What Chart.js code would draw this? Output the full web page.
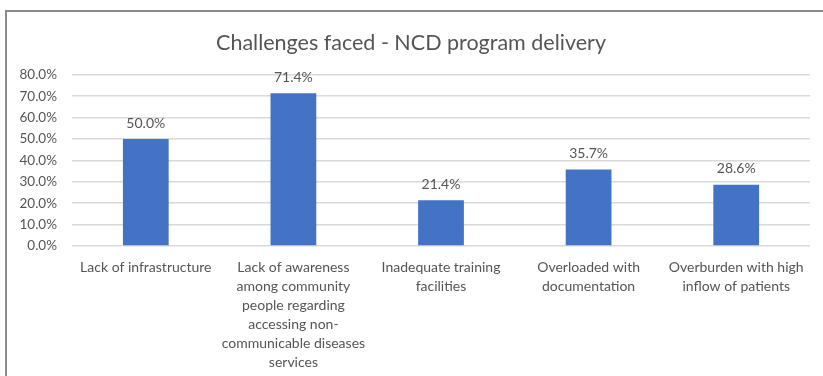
<!DOCTYPE html>
<html>
<head>
<meta charset="utf-8">
<script src="https://cdn.jsdelivr.net/npm/chart.js@4/dist/chart.umd.min.js"></script>
<style>
  html, body { margin: 0; padding: 0; background: #fff; }
  #wrap { position: relative; width: 823px; height: 376px; overflow: hidden; }
  #frame { position: absolute; left: 5px; top: 10px; width: 830px; height: 380px;
           border-top: 2px solid #8a8a8a; border-left: 2px solid #8a8a8a; box-sizing: border-box; }
  canvas { position: absolute; left: 0; top: 0; }
</style>
</head>
<body>
<div id="wrap">
  <div id="frame"></div>
  <canvas id="c" width="823" height="376"></canvas>
</div>
<script>
const categories = [
  ['Lack of infrastructure'],
  ['Lack of awareness', 'among community', 'people regarding', 'accessing non-', 'communicable diseases', 'services'],
  ['Inadequate training', 'facilities'],
  ['Overloaded with', 'documentation'],
  ['Overburden with high', 'inflow of patients']
];
const percentValues = [50.0, 71.4, 21.4, 35.7, 28.6];
const yTicks = [0, 10, 20, 30, 40, 50, 60, 70, 80];

const FONT = 'Lato, "Open Sans", sans-serif';
const TEXT = '#555555';

// Writes each bar's value just above it
const valueLabels = {
  id: 'valueLabels',
  afterDatasetsDraw(chart) {
    const ctx = chart.ctx;
    const meta = chart.getDatasetMeta(0);
    ctx.save();
    ctx.font = '14px ' + FONT;
    ctx.fillStyle = TEXT;
    ctx.textAlign = 'center';
    ctx.textBaseline = 'middle';
    meta.data.forEach((bar, i) => {
      ctx.fillText(percentValues[i].toFixed(1) + '%', bar.x, bar.y - 16);
    });
    ctx.restore();
  }
};

new Chart(document.getElementById('c'), {
  type: 'bar',
  data: {
    labels: categories,
    datasets: [{
      data: percentValues,
      backgroundColor: '#4472C4',
      barPercentage: 0.62,
      categoryPercentage: 0.5
    }]
  },
  plugins: [valueLabels],
  options: {
    responsive: false,
    animation: false,
    layout: { padding: { left: 12, right: 13, top: 0, bottom: 0 } },
    plugins: {
      legend: { display: false },
      tooltip: { enabled: false },
      title: {
        display: true,
        text: 'Challenges faced - NCD program delivery',
        color: TEXT,
        font: { family: FONT, size: 21.5, weight: 'normal' },
        padding: { top: 30, bottom: 19 }
      }
    },
    scales: {
      x: {
        grid: { display: false, drawTicks: false },
        border: { display: false },
        ticks: {
          color: TEXT,
          font: { family: FONT, size: 14, lineHeight: 1.36 },
          padding: 12,
          maxRotation: 0,
          autoSkip: false
        },
        afterFit(scale) { scale.height = 130; }
      },
      y: {
        min: 0,
        max: 80,
        afterBuildTicks(scale) { scale.ticks = yTicks.map(v => ({ value: v })); },
        grid: { color: '#d9d9d9', lineWidth: 1.5, drawTicks: false },
        border: { display: false },
        ticks: {
          color: TEXT,
          font: { family: FONT, size: 13.5 },
          padding: 15,
          callback: v => v.toFixed(1) + '%'
        },
        afterFit(scale) { scale.width = 60; }
      }
    }
  }
});
</script>
</body>
</html>
